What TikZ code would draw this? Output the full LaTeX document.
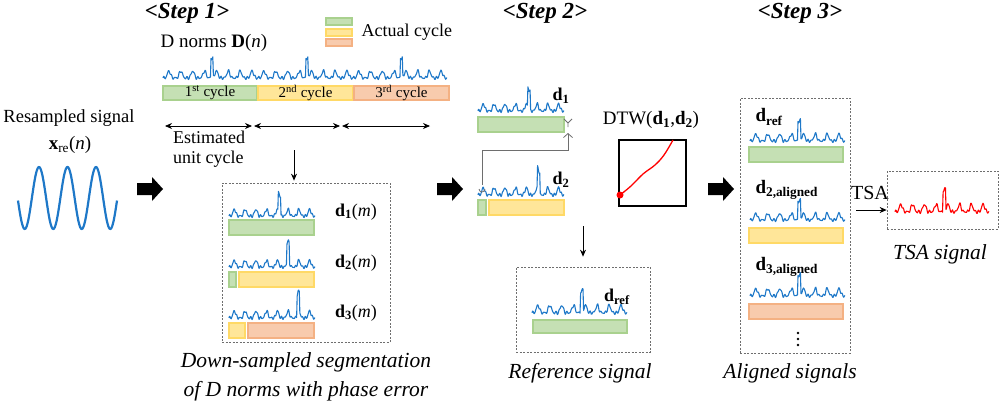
\documentclass[tikz,border=0pt]{standalone}
\usepackage{fontspec}
\setmainfont{Liberation Serif}
\usetikzlibrary{arrows.meta}
\definecolor{gfill}{RGB}{197,224,180}
\definecolor{gdraw}{RGB}{169,209,142}
\definecolor{yfill}{RGB}{255,230,153}
\definecolor{ydraw}{RGB}{255,217,102}
\definecolor{ofill}{RGB}{248,203,173}
\definecolor{odraw}{RGB}{244,177,131}
\definecolor{sigblue}{RGB}{30,120,200}
\definecolor{dgray}{RGB}{110,110,110}
\tikzset{
  declare function={bq(\xa)=\xa*\xa*\xa; dn(\xa,\xs,\xn)=0.3*bq(sin(\xa*180*\xn)*sin(\xa*180*\xn))+0.045*sin(\xa*9000)+0.03*sin(\xa*13100)+0.85*(\xa>\xs)*(\xa<\xs+0.03);},
  sigline/.style={sigblue,line width=1.1pt,line join=round},
  gbar/.style={fill=gfill,draw=gdraw,line width=1.3pt},
  ybar/.style={fill=yfill,draw=ydraw,line width=1.3pt},
  obar/.style={fill=ofill,draw=odraw,line width=1.3pt},
  dbox/.style={draw=dgray,dash pattern=on 2pt off 1.5pt,line width=0.7pt,inner sep=0pt},
  f15/.style={font=\fontsize{15}{17}\selectfont},
  f18/.style={font=\fontsize{18}{21}\selectfont},
  f19/.style={font=\fontsize{19}{22}\selectfont},
  f20/.style={font=\fontsize{20}{23}\selectfont},
  captxt/.style={font=\fontsize{21.5}{29}\selectfont\itshape,align=center},
  steplbl/.style={font=\fontsize{23}{26}\selectfont\bfseries\itshape},
  arr/.style={-{Stealth[length=7pt,width=6pt]},line width=0.8pt},
  darr/.style={{Stealth[length=7pt,width=6pt]}-{Stealth[length=7pt,width=6pt]},line width=0.8pt},
}
\newcommand\dsig[6]{\draw[sigline,#6] plot[domain=0:1,samples=161,variable=\xv] ({#1+\xv*(#2-#1)},{#3-(#4)*(0.08+0.9*dn(\xv,#5,8))});}
\newcommand\bigarrow[3]{\fill (#1,#2-6) -- ++(15,0) -- ++(0,-6) -- ++(11,12) -- ++(-11,12) -- ++(0,-6) -- ++(-15,0) -- cycle; \coordinate (#3) at (#1+26,#2);}
\newcommand\bd[1]{\textbf{d}\textsubscript{\textbf{#1}}}
\begin{document}
\begin{tikzpicture}[x=1pt,y=-1pt]
\useasboundingbox (0,0) rectangle (1000,404);
% step labels
\node[steplbl] (s1) at (187,13) {<Step 1>};
\node[steplbl] (s2) at (545,13) {<Step 2>};
\node[steplbl] (s3) at (800,13) {<Step 3>};
% legend
\draw[gbar] (326,18) rectangle (352,25);
\draw[ybar] (326,29) rectangle (352,36);
\draw[obar] (326,39) rectangle (352,46);
\node[f18,anchor=west] (leg) at (358,32) {Actual cycle};
% D norms
\node[f19] (dnorm) at (214,43) {D norms \textbf{D}(\textit{n})};
\dsig{163}{258}{80}{26}{0.5}{}
\dsig{258}{353}{80}{26}{0.5}{}
\dsig{353}{447}{80}{26}{0.5}{}
\draw[gbar] (163,86) rectangle (257,100);
\draw[ybar] (258,86) rectangle (353,100);
\draw[obar] (354,86) rectangle (449,100);
\node[f15] (c1) at (210,93) {1\textsuperscript{st} cycle};
\node[f15] (c2) at (305.5,93) {2\textsuperscript{nd} cycle};
\node[f15] (c3) at (401.5,93) {3\textsuperscript{rd} cycle};
% estimated unit cycle
\coordinate (e0) at (165,126); \coordinate (e1) at (252,126);
\coordinate (e2) at (254,126); \coordinate (e3) at (340,126);
\coordinate (e4) at (342,126); \coordinate (e5) at (430,126);
\draw[darr] (e0) -- (e1);
\draw[darr] (e2) -- (e3);
\draw[darr] (e4) -- (e5);
\node[font=\fontsize{18}{20}\selectfont,align=left,anchor=north west,inner sep=0pt] (est) at (173,131) {Estimated\\unit cycle};
% resampled signal
\node[font=\fontsize{18.5}{21}\selectfont] (res) at (69,118) {Resampled signal};
\node[f19] (xre) at (70,145) {\textbf{x}\textsubscript{re}(\textit{n})};
\draw[sigline,line width=2.2pt] plot[domain=18:117,samples=160,variable=\xv] (\xv,{198-31*cos((\xv-39)*12.6316)});
% big arrows
\bigarrow{137}{189}{ba1}
\bigarrow{437}{189}{ba2}
\bigarrow{708}{189}{ba3}
% box 1
\node[dbox,minimum width=168pt,minimum height=159pt] (box1) at (306,262.5) {};
\coordinate (a1s) at (294,150);
\draw[arr] (a1s) -- ([yshift=2pt]box1.north -| a1s);
\dsig{229}{315}{218}{25}{0.57}{}
\draw[gbar] (229,220) rectangle (314,235);
\node[f18] (l1) at (356,212) {\bd{1}(\textit{m})};
\dsig{229}{315}{269}{25}{0.67}{}
\draw[gbar] (229,272) rectangle (236,287);
\draw[ybar] (239,272) rectangle (314,287);
\node[f18] (l2) at (356,263) {\bd{2}(\textit{m})};
\dsig{229}{315}{320}{26}{0.79}{}
\draw[ybar] (229,323) rectangle (245,338);
\draw[obar] (248,323) rectangle (314,338);
\node[f18] (l3) at (356,313) {\bd{3}(\textit{m})};
\node[captxt] (cap1) at (306,377) {Down-sampled segmentation\\of D norms with phase error};
% step 2
\dsig{478}{564}{113}{26}{0.58}{}
\draw[gbar] (478,117) rectangle (564,132);
\node[f18] (s2d1) at (561,96) {\bd{1}};
\dsig{478}{564}{197}{27}{0.69}{}
\draw[gbar] (478,200) rectangle (486,215);
\draw[ybar] (489,200) rectangle (564,215);
\node[f18] (s2d2) at (561,180) {\bd{2}};
% start/end markers and matching arrow
\draw[dgray,line width=0.8pt] (479,189) arc[start angle=180,end angle=0,radius=3];
\coordinate (mk2) at (482,185);
\draw[dgray,line width=0.8pt] (564,119) -- (568,123) -- (572,119) (568,123) -- (568,127);
\coordinate (mk1) at (568,133);
\draw[dgray,line width=0.8pt,-{Straight Barb[length=4pt,width=9pt]}] (mk2) |- (568,150) -- (mk1);
% DTW
\node[f19] (dtwl) at (651,120) {DTW(\bd{1},\bd{2})};
\node[draw,line width=2.6pt,minimum width=67pt,minimum height=66pt,inner sep=0pt] (dtw) at (652.5,173) {};
\draw[red,line width=1.3pt] plot[smooth,tension=0.6] coordinates {(620,195) (631,186) (643,174) (655,165) (664,155) (673,140)};
\fill[red] (620,195) circle (3.5);
% reference
\coordinate (a2s) at (583,226);
\node[dbox,minimum width=134pt,minimum height=85pt] (box2) at (583,309.5) {};
\draw[arr] (a2s) -- ([yshift=10pt]box2.north -| a2s);
\dsig{532}{627}{315}{28}{0.51}{}
\draw[gbar] (533,320) rectangle (627,333);
\node[f18] (dref) at (617,297) {\bd{ref}};
\node[captxt] (cap2) at (580,373) {Reference signal};
% step 3
\node[dbox,minimum width=110pt,minimum height=255pt] (box3) at (795,225.5) {};
\node[f19,anchor=west] (a1) at (752,117) {\bd{ref}};
\dsig{750}{845}{143}{26}{0.505}{}
\draw[gbar] (749,147) rectangle (843,162);
\node[f19,anchor=west] (a2) at (752,190) {\bd{2,aligned}};
\dsig{750}{845}{222}{25}{0.505}{}
\draw[ybar] (749,228) rectangle (843,243);
\node[f19,anchor=west] (a3) at (752,267) {\bd{3,aligned}};
\dsig{750}{845}{298}{27}{0.505}{}
\draw[obar] (749,304) rectangle (843,319);
\foreach \yy in {333,339,345} \fill (798,\yy) circle (1.3);
\node[captxt] (cap3) at (790,373) {Aligned signals};
% TSA
\node[f20] (tsal) at (870,193) {TSA};
\node[dbox,minimum width=111pt,minimum height=58pt] (box4) at (942.5,200) {};
\coordinate (ts) at (856,210);
\draw[arr] (ts) -- (box4.west |- ts);
\dsig{895}{989}{214}{28}{0.51}{red}
\node[captxt] (cap4) at (940,254) {TSA signal};
\end{tikzpicture}
\end{document}
